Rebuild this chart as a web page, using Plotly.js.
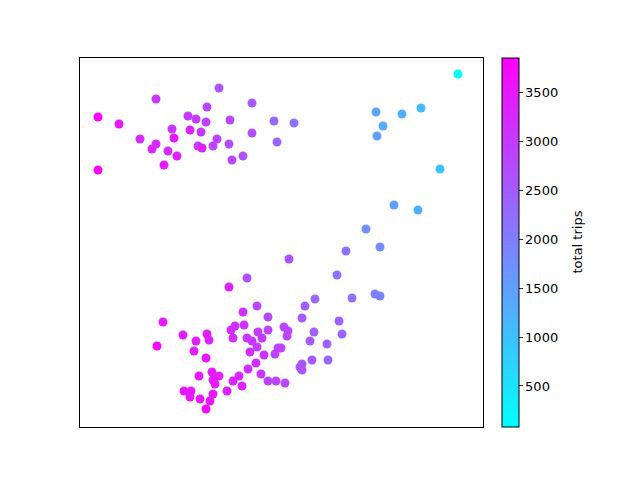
<!DOCTYPE html>
<html>
<head>
<meta charset="utf-8">
<script src="https://cdn.plot.ly/plotly-3.0.1.min.js"></script>
<style>html,body{margin:0;padding:0;background:#fff;}#chart{width:640px;height:480px;}</style>
</head>
<body>
<div id="chart"></div>
<script>
// Values (arbitrary horizontal / vertical units, no tick labels shown)
const xVals = [
  18,18,39,76,60,72,76,84,88,94,97,92,108,116,110,121,127,126,118,122,133,137,139,150,149,152,163,172,172,194,197,214,
  378,296,322,341,303,297,360,
  314,338,286,300,266,209,257,235,225,272,295,300,
  167,149,83,77,103,127,116,129,114,126,177,163,188,222,259,155,164,204,208,188,151,178,234,262,207,167,182,153,172,230,247,201,177,170,195,184,232,248,222,220,222,176,168,181,159,188,196,205,153,162,147,119,132,139,133,135,104,111,110,120,133,130,126,198
];
const yVals = [
  310,257,303,328,288,278,283,262,276,289,271,298,311,308,297,295,320,305,281,279,281,288,339,307,283,267,271,324,294,306,285,304,
  353,315,313,319,301,291,258,
  222,217,198,180,176,168,152,128,121,129,133,131,
  149,140,105,81,92,93,86,87,76,69,121,115,110,109,106,101,102,100,96,97,97,95,95,93,91,89,89,89,86,86,83,79,80,75,73,72,67,67,63,60,57,64,58,53,51,46,46,44,46,41,36,51,55,51,47,43,36,36,30,28,33,26,18,79
];
const trips = [
  3800,3750,3500,3050,3250,3300,3250,3500,3200,3500,3400,3100,3000,3000,3300,3050,2850,2900,3000,3350,2850,2900,2600,2800,2700,2800,2650,2550,2700,2300,2350,2150,
  80,1400,1300,1100,1350,1500,950,
  1500,1250,1750,1800,2150,2600,2200,2300,2500,2200,1950,1950,
  2700,3300,3500,3800,3400,3400,3400,3300,3400,3500,2850,3100,2750,2550,2450,3100,3100,2800,2850,2800,3200,3000,2450,2350,2800,3050,3000,3150,3050,2550,2400,2850,3000,3150,2850,3100,2550,2350,2600,2600,2650,3150,3200,3050,3300,2850,2850,2800,3300,3300,3400,3500,3450,3350,3500,3450,3500,3500,3550,3550,3550,3550,3700,2900
];
const cbTicks = [500, 1000, 1500, 2000, 2500, 3000, 3500];
const cbTitle = 'total trips';

const trace = {
  type: 'scatter',
  mode: 'markers',
  x: xVals,
  y: yVals,
  marker: {
    size: 9,
    color: trips,
    cmin: 80,
    cmax: 3855,
    colorscale: [[0, 'rgb(0,255,255)'], [1, 'rgb(255,0,255)']],
    line: {width: 0},
    colorbar: {
      x: (502 - 80) / 403,
      xanchor: 'left',
      xpad: 0,
      ypad: 0,
      y: 0.5,
      yanchor: 'middle',
      len: 1,
      lenmode: 'fraction',
      thickness: 17,
      thicknessmode: 'pixels',
      outlinewidth: 1,
      outlinecolor: '#000',
      ticks: 'outside',
      ticklen: 3.5,
      tickwidth: 0.8,
      tickcolor: '#000',
      tickvals: cbTicks,
      ticktext: cbTicks.map(String),
      tickfont: {family: 'DejaVu Sans', size: 13, color: '#000'},
      title: {text: ''}
    }
  },
  hoverinfo: 'none'
};

const axisCommon = {
  showline: true, mirror: true, linecolor: '#000', linewidth: 1,
  showgrid: false, zeroline: false, showticklabels: false, ticks: ''
};

const layout = {
  width: 640, height: 480,
  margin: {l: 80, r: 157, t: 58, b: 53, pad: 0},
  paper_bgcolor: '#fff', plot_bgcolor: '#fff',
  font: {family: 'DejaVu Sans', size: 13, color: '#000'},
  showlegend: false,
  xaxis: Object.assign({range: [0, 403]}, axisCommon),
  yaxis: Object.assign({range: [0, 369]}, axisCommon),
  annotations: [{
    text: cbTitle, xref: 'paper', yref: 'paper',
    x: (577 - 80) / 403, y: 0.5, xanchor: 'center', yanchor: 'middle',
    textangle: -90, showarrow: false,
    font: {family: 'DejaVu Sans', size: 13, color: '#000'}
  }]
};

Plotly.newPlot('chart', [trace], layout, {staticPlot: true, displayModeBar: false});
</script>
</body>
</html>
